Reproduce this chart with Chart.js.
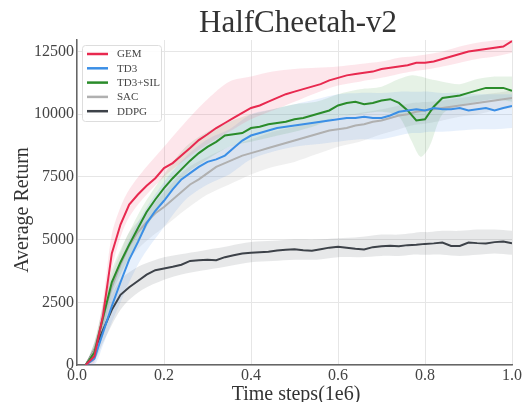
<!DOCTYPE html>
<html>
<head>
<meta charset="utf-8">
<script src="https://cdn.jsdelivr.net/npm/chart.js@4.4.1/dist/chart.umd.min.js"></script>
<style>
  html, body { margin: 0; padding: 0; background: #ffffff; }
  canvas { display: block; }
</style>
</head>
<body>
<canvas id="c" width="525" height="402"></canvas>
<script>
// ---------- data ----------
const titleText = "HalfCheetah-v2";
const xTitle = "Time steps(1e6)";
const yTitle = "Average Return";
const seriesNames = ["GEM", "TD3", "TD3+SIL", "SAC", "DDPG"];
const xTicks = [0.0, 0.2, 0.4, 0.6, 0.8, 1.0];
const yTicks = [0, 2500, 5000, 7500, 10000, 12500];

const steps = [0.02,0.04,0.06,0.08,0.10,0.12,0.14,0.16,0.18,0.20,
               0.22,0.24,0.26,0.28,0.30,0.32,0.34,0.36,0.38,0.40,
               0.42,0.44,0.46,0.48,0.50,0.52,0.54,0.56,0.58,0.60,
               0.62,0.64,0.66,0.68,0.70,0.72,0.74,0.76,0.78,0.80,
               0.82,0.84,0.86,0.88,0.90,0.92,0.94,0.96,0.98,1.00];

const gem = [0,350,2000,4450,5600,6400,6800,7150,7450,7850,
             8050,8350,8650,8970,9200,9450,9650,9850,10050,10250,
             10350,10500,10650,10800,10900,11000,11100,11200,11350,11450,
             11550,11600,11650,11700,11800,11850,11900,11950,12050,12050,
             12100,12200,12300,12400,12500,12550,12600,12650,12700,12920];
const td3 = [0,250,1300,2350,3300,4200,4900,5650,6150,6550,
             7000,7400,7650,7900,8100,8200,8350,8650,8950,9150,
             9250,9350,9450,9500,9550,9600,9650,9700,9750,9800,
             9850,9850,9900,9850,9850,9950,10100,10150,10200,10150,
             10250,10200,10200,10250,10150,10200,10250,10150,10250,10330];
const td3sil = [0,500,1900,3300,4100,4800,5450,6100,6600,7050,
                7450,7800,8150,8450,8700,8900,9150,9200,9250,9450,
                9500,9600,9650,9700,9800,9850,9950,10050,10150,10350,
                10450,10500,10400,10450,10550,10600,10450,10150,9750,9800,
                10300,10650,10700,10750,10850,10950,11050,11050,11050,10930];
const sac = [0,600,1900,3100,4000,4750,5300,5700,6050,6300,
             6600,6900,7200,7400,7650,7900,8050,8200,8350,8450,
             8550,8650,8750,8850,8950,9050,9150,9250,9350,9400,
             9450,9550,9600,9700,9750,9850,9950,10000,10100,10150,
             10200,10250,10300,10350,10400,10450,10500,10550,10600,10650];
const ddpg = [0,600,1400,2200,2800,3100,3350,3600,3780,3850,
              3920,4000,4150,4180,4200,4180,4300,4380,4450,4480,
              4500,4520,4570,4600,4620,4580,4560,4620,4680,4720,
              4680,4640,4610,4700,4740,4760,4740,4780,4800,4830,
              4850,4880,4750,4750,4880,4860,4850,4900,4920,4850];

// shaded bands (lower / upper) read at these steps
const bandSteps = [0.02,0.04,0.06,0.08,0.10,0.12,0.15,0.20,0.25,0.30,0.35,0.40,0.45,0.50,
                   0.55,0.60,0.65,0.70,0.74,0.77,0.79,0.81,0.84,0.88,0.92,0.96,1.00];
const gemLo = [0,100,1500,3800,5100,5900,6600,7500,8200,8800,9300,9800,10150,10500,
               10850,11150,11300,11450,11600,11700,11750,11800,11900,12050,12200,12300,12450];
const gemHi = [0,700,2600,5200,6300,7000,7700,8700,9700,10600,11300,11500,11700,11800,
               11850,11900,12000,12100,12250,12300,12350,12400,12500,12700,12850,12950,13100];
const td3Lo = [0,0,800,1700,2500,3300,4300,5500,6600,7200,7600,8200,8500,8700,
               8800,8900,9000,9000,9150,9250,9250,9300,9300,9350,9400,9400,9450];
const td3Hi = [0,600,1900,3000,4100,5000,6000,7300,8300,9000,9400,10000,10200,10400,
               10600,10800,10850,10850,10900,10900,10900,10900,10850,10850,10800,10800,10800];
const silLo = [0,200,1400,2800,3600,4300,5200,6600,7600,8200,8700,8900,9100,9300,
               9550,9900,10000,10100,9900,8900,8300,8700,10000,10350,10500,10600,10500];
const silHi = [0,900,2400,3800,4600,5300,6300,7600,8700,9300,9700,10000,10200,10400,
               10500,10800,11000,11100,11400,11550,11500,11400,11300,11200,11400,11500,11500];
const sacLo = [0,200,1400,2500,3400,4200,4800,5500,6200,6800,7200,7600,7900,8100,
               8400,8700,8900,9200,9400,9550,9600,9650,9750,9900,10000,10150,10250];
const sacHi = [0,900,2400,3600,4500,5300,5900,6900,7800,8300,8700,9000,9300,9500,
               9700,9900,10050,10200,10350,10450,10480,10500,10550,10650,10750,10850,10950];
const ddpgLo = [0,200,900,1600,2200,2600,3000,3400,3650,3800,3950,4100,4150,4200,
                4200,4300,4300,4350,4350,4400,4400,4400,4400,4350,4400,4450,4400];
const ddpgHi = [0,900,1900,2800,3400,3700,4000,4300,4450,4600,4750,4900,4950,5000,
                5000,5050,5100,5200,5200,5250,5300,5300,5350,5350,5400,5400,5350];

const yMax = 12960;

// ---------- styling ----------
const lineColors = ["#e8294f", "#3b8fe6", "#2a8c2a", "#b0b0b0", "#3d4249"];
const bandColors = ["rgba(240,90,120,0.15)", "rgba(70,140,230,0.13)", "rgba(50,150,50,0.12)",
                    "rgba(160,160,160,0.16)", "rgba(70,75,82,0.13)"];
const serif = "'Liberation Serif', 'DejaVu Serif', serif";

function pts(xs, ys) { return xs.map((x, i) => ({ x: x, y: ys[i] })); }

const means = [gem, td3, td3sil, sac, ddpg];
const los = [gemLo, td3Lo, silLo, sacLo, ddpgLo];
const his = [gemHi, td3Hi, silHi, sacHi, ddpgHi];

const datasets = [];
// lines first (drawn on top)
means.forEach((m, i) => {
  datasets.push({
    label: seriesNames[i],
    data: pts(steps, m),
    borderColor: lineColors[i],
    backgroundColor: lineColors[i],
    borderWidth: 2,
    pointRadius: 0,
    tension: 0,
    fill: false
  });
});
// bands
means.forEach((m, i) => {
  datasets.push({
    label: seriesNames[i] + " lo",
    data: pts(bandSteps, los[i]),
    borderWidth: 0,
    borderColor: "rgba(0,0,0,0)",
    pointRadius: 0,
    tension: 0.3,
    fill: false
  });
  datasets.push({
    label: seriesNames[i] + " hi",
    data: pts(bandSteps, his[i]),
    borderWidth: 0,
    borderColor: "rgba(0,0,0,0)",
    backgroundColor: bandColors[i],
    pointRadius: 0,
    tension: 0.3,
    fill: "-1"
  });
});

const decor = {
  id: "decor",
  afterDraw(chart) {
    const ctx = chart.ctx;
    const area = chart.chartArea;
    ctx.save();
    // title
    ctx.fillStyle = "#333333";
    ctx.font = "31px " + serif;
    ctx.textAlign = "center";
    ctx.textBaseline = "alphabetic";
    ctx.fillText(titleText, 298, 32);
    // x title
    ctx.font = "20px " + serif;
    ctx.fillText(xTitle, 296, 400);
    // y title
    ctx.save();
    ctx.translate(23, 210);
    ctx.rotate(-Math.PI / 2);
    ctx.textBaseline = "middle";
    ctx.font = "20px " + serif;
    ctx.fillText(yTitle, 0, 0);
    ctx.restore();
    // legend
    const lx = 82, ly = 45, lw = 79, lh = 76;
    ctx.fillStyle = "rgba(255,255,255,0.85)";
    ctx.strokeStyle = "#dddddd";
    ctx.lineWidth = 1;
    ctx.beginPath();
    if (ctx.roundRect) ctx.roundRect(lx + 0.5, ly + 0.5, lw, lh, 3); else ctx.rect(lx + 0.5, ly + 0.5, lw, lh);
    ctx.fill();
    ctx.stroke();
    ctx.font = "11px " + serif;
    ctx.textAlign = "left";
    ctx.textBaseline = "middle";
    seriesNames.forEach((name, i) => {
      const yy = 54 + i * 14.3;
      ctx.strokeStyle = lineColors[i];
      ctx.lineWidth = 2.5;
      ctx.beginPath();
      ctx.moveTo(87, yy);
      ctx.lineTo(108, yy);
      ctx.stroke();
      ctx.fillStyle = "#444444";
      ctx.fillText(name, 117, yy + 0.5);
    });
    ctx.restore();
  }
};

new Chart(document.getElementById("c"), {
  type: "line",
  data: { datasets: datasets },
  options: {
    responsive: false,
    animation: false,
    devicePixelRatio: 1,
    layout: { padding: { top: 40, right: 13, left: 0, bottom: 0 } },
    plugins: {
      legend: { display: false },
      tooltip: { enabled: false },
      title: { display: false }
    },
    scales: {
      x: {
        type: "linear",
        min: 0,
        max: 1,
        afterBuildTicks(scale) { scale.ticks = xTicks.map(v => ({ value: v })); },
        afterFit(scale) { scale.height = 37; },
        ticks: {
          callback: v => Number(v).toFixed(1),
          font: { family: serif, size: 16 },
          color: "#444444",
          padding: 1,
          maxRotation: 0
        },
        grid: { color: "#e6e6e6", drawTicks: false, lineWidth: 1 },
        border: { color: "#666666", width: 1.5 }
      },
      y: {
        type: "linear",
        min: 0,
        max: yMax,
        afterBuildTicks(scale) { scale.ticks = yTicks.map(v => ({ value: v })); },
        afterFit(scale) { scale.width = 77; },
        ticks: {
          callback: v => String(v),
          font: { family: serif, size: 16 },
          color: "#444444",
          padding: 3
        },
        grid: { color: "#e6e6e6", drawTicks: false, lineWidth: 1 },
        border: { color: "#666666", width: 1.5 }
      }
    }
  },
  plugins: [decor]
});
</script>
</body>
</html>
